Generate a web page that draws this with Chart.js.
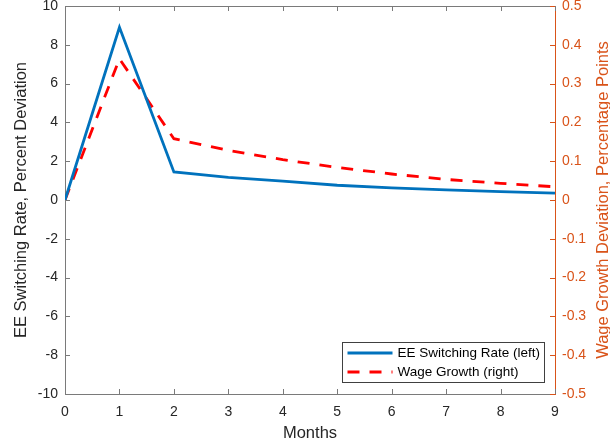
<!DOCTYPE html>
<html>
<head>
<meta charset="utf-8">
<script src="https://cdn.jsdelivr.net/npm/chart.js@4"></script>
<style>
  body { margin: 0; background: #fff; }
  #wrap { width: 610px; height: 446px; }
</style>
</head>
<body>
<div id="wrap"><canvas id="irfChart" width="610" height="446"></canvas></div>
<script>
const months = [0, 1, 2, 3, 4, 5, 6, 7, 8, 9];
const eeRate = [0, 8.9, 1.45, 1.17, 0.97, 0.76, 0.62, 0.52, 0.43, 0.35];
const wageGrowth = [0, 0.364, 0.158, 0.128, 0.104, 0.084, 0.067, 0.053, 0.043, 0.034];
const leftTicks = [-10, -8, -6, -4, -2, 0, 2, 4, 6, 8, 10];
const rightTicks = [-0.5, -0.4, -0.3, -0.2, -0.1, 0, 0.1, 0.2, 0.3, 0.4, 0.5];
const rightTitle = 'Wage Growth Deviation, Percentage Points';

const AXIS_GREY = '#7a7a7a';
const TEXT = '#262626';
const ORANGE = '#D95319';
const FONT = '"Liberation Sans", Arial, sans-serif';

Chart.defaults.font.family = FONT;
Chart.defaults.color = TEXT;

// MATLAB style: inward ticks, box line on top, right label read bottom-up
const axesDecor = {
  id: 'axesDecor',
  afterDraw(chart) {
    const { ctx, chartArea: { left, right, top, bottom }, scales: { x, y, y1 } } = chart;
    const len = 5;
    ctx.save();
    ctx.lineWidth = 1;
    ctx.strokeStyle = AXIS_GREY;
    ctx.beginPath();
    ctx.moveTo(left, Math.round(top) + 0.5);
    ctx.lineTo(right, Math.round(top) + 0.5);
    x.ticks.forEach(t => {
      const px = Math.round(x.getPixelForValue(t.value)) + 0.5;
      ctx.moveTo(px, bottom); ctx.lineTo(px, bottom - len);
      ctx.moveTo(px, top); ctx.lineTo(px, top + len);
    });
    y.ticks.forEach(t => {
      const py = Math.round(y.getPixelForValue(t.value)) + 0.5;
      ctx.moveTo(left, py); ctx.lineTo(left + len, py);
    });
    ctx.stroke();
    ctx.strokeStyle = ORANGE;
    ctx.beginPath();
    y1.ticks.forEach(t => {
      const py = Math.round(y1.getPixelForValue(t.value)) + 0.5;
      ctx.moveTo(right, py); ctx.lineTo(right - len, py);
    });
    ctx.stroke();

    ctx.translate(603, (top + bottom) / 2);
    ctx.rotate(-Math.PI / 2);
    ctx.font = '16.5px ' + FONT;
    ctx.fillStyle = ORANGE;
    ctx.textAlign = 'center';
    ctx.textBaseline = 'middle';
    ctx.fillText(rightTitle, 0, 0);
    ctx.restore();
  }
};

// legend box inside the plot, lower right
const boxLegend = {
  id: 'boxLegend',
  afterDraw(chart) {
    const { ctx, chartArea } = chart;
    const w = 202, h = 40;
    const bx = Math.round(chartArea.right - 11 - w) + 0.5;
    const by = Math.round(chartArea.bottom - 12 - h) + 0.5;
    ctx.save();
    ctx.fillStyle = '#fff';
    ctx.fillRect(bx, by, w, h);
    ctx.strokeStyle = '#404040';
    ctx.lineWidth = 1;
    ctx.strokeRect(bx, by, w, h);
    ctx.font = '13.5px ' + FONT;
    ctx.textBaseline = 'middle';
    chart.data.datasets.forEach((ds, i) => {
      const cy = by + 10.5 + i * 19;
      ctx.beginPath();
      ctx.strokeStyle = ds.borderColor;
      ctx.lineWidth = ds.borderWidth;
      ctx.setLineDash(ds.borderDash || []);
      ctx.moveTo(bx + 5, cy);
      ctx.lineTo(bx + 50, cy);
      ctx.stroke();
      ctx.setLineDash([]);
      ctx.fillStyle = '#000';
      ctx.fillText(ds.label, bx + 55, cy);
    });
    ctx.restore();
  }
};

const fixVertical = width => s => {
  s.width = width;
  s.paddingTop = 0;
  s.paddingBottom = 0;
};

const ctx = document.getElementById('irfChart').getContext('2d');

new Chart(ctx, {
  type: 'line',
  data: {
    datasets: [
      {
        label: 'EE Switching Rate (left)',
        data: months.map((m, i) => ({ x: m, y: eeRate[i] })),
        yAxisID: 'y',
        borderColor: '#0072BD',
        borderWidth: 2.8,
        pointRadius: 0,
        tension: 0,
        fill: false
      },
      {
        label: 'Wage Growth (right)',
        data: months.map((m, i) => ({ x: m, y: wageGrowth[i] })),
        yAxisID: 'y1',
        borderColor: '#FF0000',
        borderWidth: 2.8,
        borderDash: [12, 10],
        pointRadius: 0,
        tension: 0,
        fill: false
      }
    ]
  },
  options: {
    responsive: false,
    animation: false,
    layout: { padding: { top: 6, left: 0, right: 0, bottom: 0 } },
    plugins: {
      legend: { display: false },
      tooltip: { enabled: false }
    },
    scales: {
      x: {
        type: 'linear',
        min: 0,
        max: 9,
        afterBuildTicks: s => { s.ticks = months.map(v => ({ value: v })); },
        afterFit: s => { s.height = 52; },
        grid: { display: false, drawTicks: false },
        border: { display: true, color: AXIS_GREY, width: 1 },
        ticks: { color: TEXT, font: { size: 14 }, padding: 10, maxRotation: 0 },
        title: {
          display: true,
          text: 'Months',
          color: TEXT,
          font: { size: 16.5 },
          padding: { top: 0, bottom: 3 }
        }
      },
      y: {
        position: 'left',
        min: -10,
        max: 10,
        afterBuildTicks: s => { s.ticks = leftTicks.map(v => ({ value: v })); },
        afterFit: fixVertical(65),
        grid: { display: false, drawTicks: false },
        border: { display: true, color: AXIS_GREY, width: 1 },
        ticks: { color: TEXT, font: { size: 14 }, padding: 7 },
        title: {
          display: true,
          text: 'EE Switching Rate, Percent Deviation',
          color: TEXT,
          font: { size: 16.5 },
          padding: { top: 12, bottom: 0 }
        }
      },
      y1: {
        position: 'right',
        min: -0.5,
        max: 0.5,
        afterBuildTicks: s => { s.ticks = rightTicks.map(v => ({ value: v })); },
        afterFit: fixVertical(55),
        grid: { display: false, drawTicks: false },
        border: { display: true, color: ORANGE, width: 1 },
        ticks: {
          color: ORANGE,
          font: { size: 14 },
          padding: 7,
          callback: v => String(v)
        }
      }
    }
  },
  plugins: [axesDecor, boxLegend]
});
</script>
</body>
</html>
